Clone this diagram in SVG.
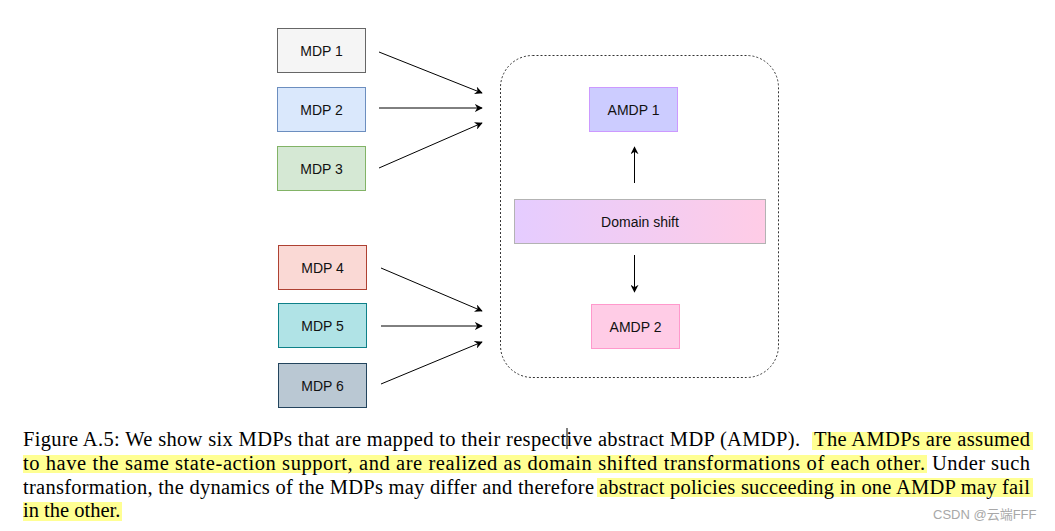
<svg xmlns="http://www.w3.org/2000/svg" width="1055" height="531" viewBox="0 0 1055 531">
<style>
.lbl{font-family:"Liberation Sans",Arial,sans-serif;font-size:14px;fill:#111;text-anchor:middle;dominant-baseline:central}
.cap{font-family:"Liberation Serif","Times New Roman",serif;font-size:20.5px;fill:#000}
.hl{fill:#ffff80;fill-opacity:0.85}
.edge{stroke:#000;stroke-width:1;fill:none;marker-end:url(#ah)}
</style>
<defs>
<marker id="ah" viewBox="0 0 10 10" refX="9" refY="5" markerWidth="8" markerHeight="8" markerUnits="userSpaceOnUse" orient="auto">
<path d="M0,0 L10,5 L0,10 L3,5 Z" fill="#000"/>
</marker>
<linearGradient id="ds" x1="0" y1="0" x2="1" y2="0">
<stop offset="0" stop-color="#e5ccff"/>
<stop offset="1" stop-color="#ffcce6"/>
</linearGradient>
</defs>
<rect width="1055" height="531" fill="#fff"/>

<g id="container">
<rect x="500.5" y="55.5" width="278" height="322" rx="32" fill="none" stroke="#333" stroke-width="1" stroke-dasharray="2,2"/>
</g>

<g id="mdp1"><rect x="277.5" y="28.5" width="88" height="44" fill="#f5f5f5" stroke="#666"/><text class="lbl" x="321.5" y="50.5">MDP 1</text></g>
<g id="mdp2"><rect x="277.5" y="87.5" width="88" height="44" fill="#dae8fc" stroke="#6c8ebf"/><text class="lbl" x="321.5" y="109.5">MDP 2</text></g>
<g id="mdp3"><rect x="277.5" y="146.5" width="88" height="44" fill="#d5e8d4" stroke="#82b366"/><text class="lbl" x="321.5" y="168.5">MDP 3</text></g>
<g id="mdp4"><rect x="278.5" y="245.5" width="88" height="44" fill="#fad9d5" stroke="#ae4132"/><text class="lbl" x="322.5" y="267.5">MDP 4</text></g>
<g id="mdp5"><rect x="278.5" y="303.5" width="88" height="44" fill="#b0e3e6" stroke="#0e8088"/><text class="lbl" x="322.5" y="325.5">MDP 5</text></g>
<g id="mdp6"><rect x="278.5" y="363.5" width="88" height="44" fill="#bac8d3" stroke="#23445d"/><text class="lbl" x="322.5" y="385.5">MDP 6</text></g>

<g id="amdp1"><rect x="589.5" y="87.5" width="88" height="44" fill="#ccccff" stroke="#cc99ff"/><text class="lbl" x="633.5" y="109.5">AMDP 1</text></g>
<g id="domainshift"><rect x="514.5" y="199.5" width="251" height="44" fill="url(#ds)" stroke="#b3b3b3"/><text class="lbl" x="640" y="221.5">Domain shift</text></g>
<g id="amdp2"><rect x="591.5" y="304.5" width="88" height="44" fill="#ffcce6" stroke="#ff99cc"/><text class="lbl" x="635.5" y="326.5">AMDP 2</text></g>

<g id="connectors">
<line class="edge" x1="379" y1="52" x2="482" y2="93"/>
<line class="edge" x1="379" y1="108" x2="482" y2="108"/>
<line class="edge" x1="379" y1="168" x2="482" y2="123"/>
<line class="edge" x1="381" y1="268" x2="482" y2="311"/>
<line class="edge" x1="381" y1="326" x2="482" y2="326"/>
<line class="edge" x1="381" y1="384" x2="482" y2="342"/>
<line class="edge" x1="634.5" y1="183" x2="634.5" y2="147"/>
<line class="edge" x1="634.5" y1="255" x2="634.5" y2="292"/>
</g>

<g id="caption">
<rect class="hl" x="812" y="432" width="221" height="18"/>
<rect class="hl" x="23" y="455" width="904" height="18"/>
<rect class="hl" x="597" y="478" width="436" height="19"/>
<rect class="hl" x="23" y="502" width="99" height="19"/>
<text class="cap" x="23" y="446" textLength="777" lengthAdjust="spacing">Figure A.5: We show six MDPs that are mapped to their respective abstract MDP (AMDP).</text>
<text class="cap" x="814" y="446" textLength="216" lengthAdjust="spacing">The AMDPs are assumed</text>
<text class="cap" x="23" y="470" textLength="902" lengthAdjust="spacing">to have the same state-action support, and are realized as domain shifted transformations of each other.</text>
<text class="cap" x="932" y="470" textLength="98" lengthAdjust="spacing">Under such</text>
<text class="cap" x="23" y="494" textLength="571" lengthAdjust="spacing">transformation, the dynamics of the MDPs may differ and therefore</text>
<text class="cap" x="599" y="494" textLength="431" lengthAdjust="spacing">abstract policies succeeding in one AMDP may fail</text>
<text class="cap" x="23" y="517">in the other.</text>
<line x1="567" y1="428" x2="567" y2="449" stroke="#000" stroke-width="1"/>
</g>

<text x="933" y="519" style="font-family:'Liberation Sans','Noto Sans CJK SC',sans-serif;font-size:13px;fill:#a8a8a8">CSDN @云端FFF</text>
</svg>
